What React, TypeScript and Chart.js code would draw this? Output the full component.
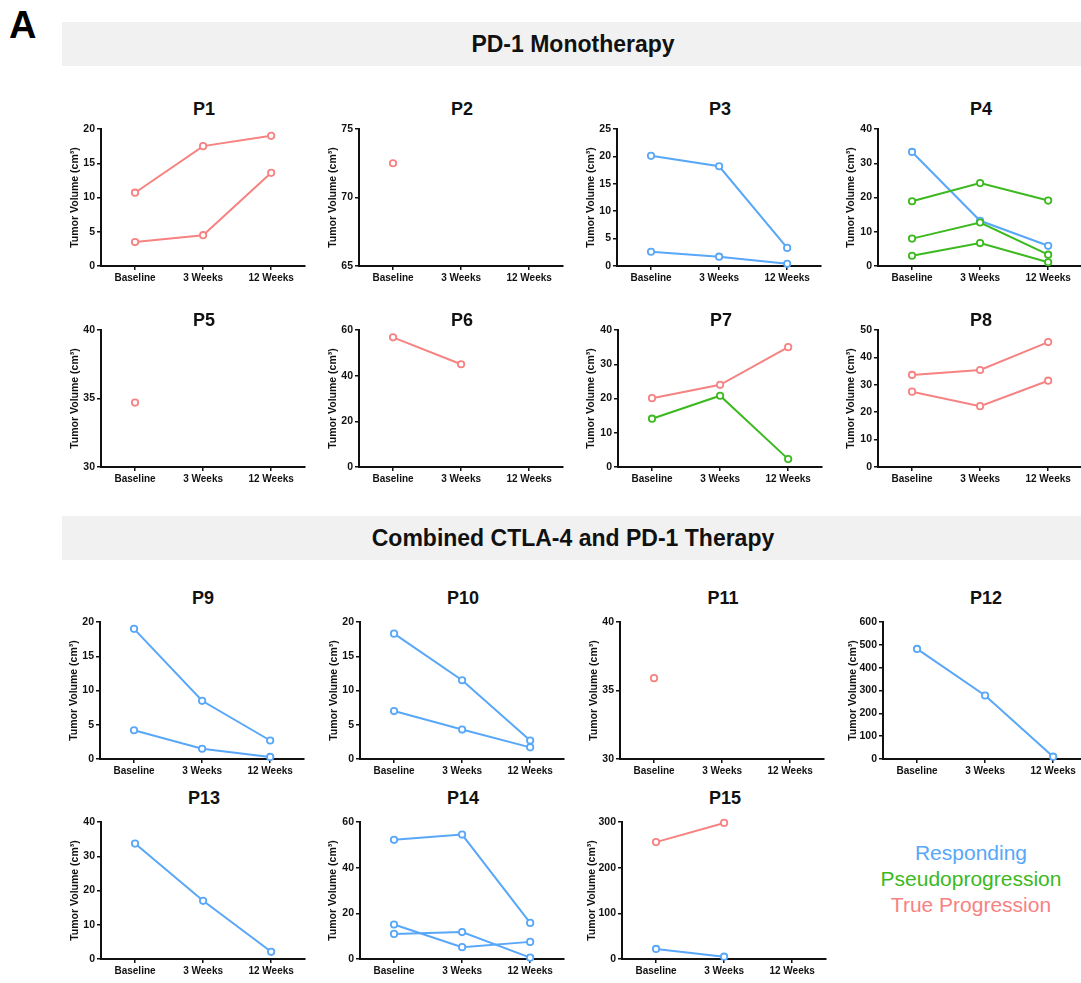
import React, { useEffect, useRef } from "react";
import { Chart, registerables } from "chart.js";
Chart.register(...registerables);

// ---------- DATA ----------
const categories = ["Baseline", "3 Weeks", "12 Weeks"];
const panelNames = ["P1", "P2", "P3", "P4", "P5", "P6", "P7", "P8", "P9", "P10", "P11", "P12", "P13", "P14", "P15"];

const p1a = [10.7, 17.5, 19.0];
const p1b = [3.5, 4.5, 13.6];
const p2a = [72.5, null, null];
const p3a = [20.1, 18.2, 3.3];
const p3b = [2.6, 1.7, 0.4];
const p4blue = [33.3, 13.2, 5.9];
const p4g1 = [18.9, 24.2, 19.1];
const p4g2 = [8.0, 12.7, 3.3];
const p4g3 = [3.0, 6.7, 1.1];
const p5a = [34.7, null, null];
const p6a = [56.8, 45.0, null];
const p7red = [20.1, 24.0, 35.0];
const p7green = [14.1, 20.8, 2.3];
const p8a = [33.6, 35.4, 45.6];
const p8b = [27.5, 22.2, 31.5];
const p9a = [19.0, 8.5, 2.7];
const p9b = [4.2, 1.5, 0.3];
const p10a = [18.3, 11.5, 2.7];
const p10b = [7.0, 4.3, 1.7];
const p11a = [35.9, null, null];
const p12a = [482, 278, 10];
const p13a = [33.7, 17.0, 2.1];
const p14a = [52.2, 54.5, 15.8];
const p14b = [15.1, 5.2, 7.5];
const p14c = [11.0, 11.8, 0.6];
const p15red = [256, 298, null];
const p15blue = [22, 5, null];

// y-axis ranges [min, max, step]
const yRanges: number[][] = [
  [0, 20, 5], [65, 75, 5], [0, 25, 5], [0, 40, 10],
  [30, 40, 5], [0, 60, 20], [0, 40, 10], [0, 50, 10],
  [0, 20, 5], [0, 20, 5], [30, 40, 5], [0, 600, 100],
  [0, 40, 10], [0, 60, 20], [0, 300, 100],
];

const legendLabels = ["Responding", "Pseudoprogression", "True Progression"];
const headings = ["PD-1 Monotherapy", "Combined CTLA-4 and PD-1 Therapy"];
const yTitle = "Tumor Volume (cm³)";

// ---------- STYLE / LAYOUT ----------
const BLUE = "#58a7f8";
const GREEN = "#3cb91e";
const PINK = "#f78282";
const FONT = "'Liberation Sans', Arial, Helvetica, sans-serif";

type S = { values: (number | null)[]; color: string };
const panelSeries: S[][] = [
  [{ values: p1a, color: PINK }, { values: p1b, color: PINK }],
  [{ values: p2a, color: PINK }],
  [{ values: p3a, color: BLUE }, { values: p3b, color: BLUE }],
  [{ values: p4g1, color: GREEN }, { values: p4g2, color: GREEN }, { values: p4g3, color: GREEN }, { values: p4blue, color: BLUE }],
  [{ values: p5a, color: PINK }],
  [{ values: p6a, color: PINK }],
  [{ values: p7red, color: PINK }, { values: p7green, color: GREEN }],
  [{ values: p8a, color: PINK }, { values: p8b, color: PINK }],
  [{ values: p9a, color: BLUE }, { values: p9b, color: BLUE }],
  [{ values: p10a, color: BLUE }, { values: p10b, color: BLUE }],
  [{ values: p11a, color: PINK }],
  [{ values: p12a, color: BLUE }],
  [{ values: p13a, color: BLUE }],
  [{ values: p14a, color: BLUE }, { values: p14b, color: BLUE }, { values: p14c, color: BLUE }],
  [{ values: p15red, color: PINK }, { values: p15blue, color: BLUE }],
];

const axisXs = [101, 359, 617, 878, 101, 359, 618, 878, 100, 360, 620, 883, 101, 360, 622];
const yTitleOffsets = [26, 26, 26, 27, 26, 26, 27, 27, 26, 26, 26, 30, 26, 27, 30];
const panelRow = [0, 0, 0, 0, 1, 1, 1, 1, 2, 2, 2, 2, 3, 3, 3];
const rowTop = [129, 330, 622, 822];
const rowBottom = [266, 467, 759, 959];
const rowTitleY = [108.5, 320, 598, 798];
const PLOT_W = 206;
const YW = 40;
const TOPPAD = 10;
const XH = 25;
const YTITLE_SIZE = 10.5;

function Panel({ idx }: { idx: number }) {
  const ref = useRef<HTMLCanvasElement | null>(null);
  const axisX = axisXs[idx];
  const row = panelRow[idx];
  const top = rowTop[row];
  const bottom = rowBottom[row];
  const cw = YW + PLOT_W + 4;
  const ch = TOPPAD + (bottom - top) + XH;

  useEffect(() => {
    if (!ref.current) return;
    const [mn, mx, st] = yRanges[idx];
    const titlePad = YW - yTitleOffsets[idx] - (YTITLE_SIZE * 1.2) / 2;
    const chart = new Chart(ref.current, {
      type: "line",
      data: {
        labels: categories,
        datasets: panelSeries[idx].map((s) => ({
          data: s.values,
          borderColor: s.color,
          backgroundColor: "#ffffff",
          pointBackgroundColor: "#ffffff",
          pointBorderColor: s.color,
          pointRadius: 3.2,
          pointBorderWidth: 1.8,
          borderWidth: 2,
          fill: false,
          tension: 0,
          clip: false,
          spanGaps: false,
        })),
      },
      options: {
        animation: false,
        responsive: false,
        maintainAspectRatio: false,
        layout: { padding: { top: TOPPAD, right: 4, left: 0, bottom: 0 } },
        plugins: { legend: { display: false }, tooltip: { enabled: false }, title: { display: false } },
        scales: {
          x: {
            type: "category",
            offset: true,
            afterFit: (s: any) => { s.height = XH; },
            border: { display: true, color: "#111", width: 2 },
            grid: { display: true, offset: false, drawOnChartArea: false, drawTicks: true, tickLength: 4, color: "#111", lineWidth: 1.5 },
            ticks: { color: "#111", padding: 2, maxRotation: 0, autoSkip: false, font: { family: FONT, size: 10, weight: "bold" } },
          },
          y: {
            type: "linear",
            min: mn,
            max: mx,
            afterFit: (s: any) => { s.width = YW; },
            border: { display: true, color: "#111", width: 2 },
            grid: { display: true, drawOnChartArea: false, drawTicks: true, tickLength: 4, color: "#111", lineWidth: 1.5 },
            ticks: { stepSize: st, color: "#111", padding: 2, font: { family: FONT, size: 10.5, weight: "bold" } },
            title: { display: true, text: yTitle, color: "#111", padding: { top: titlePad, bottom: 0 }, font: { family: FONT, size: YTITLE_SIZE, weight: "bold" } },
          },
        },
      } as any,
    });
    return () => chart.destroy();
  }, [idx]);

  return (
    <>
      <canvas
        ref={ref}
        width={cw}
        height={ch}
        style={{ position: "absolute", left: axisX - YW, top: top - TOPPAD, width: cw, height: ch }}
      />
      <div
        style={{
          position: "absolute",
          left: axisX + PLOT_W / 2 - 50,
          width: 100,
          top: rowTitleY[row] - 10,
          height: 20,
          lineHeight: "20px",
          textAlign: "center",
          fontFamily: FONT,
          fontWeight: "bold",
          fontSize: 18,
          color: "#111",
        }}
      >
        {panelNames[idx]}
      </div>
    </>
  );
}

export default function App() {
  useEffect(() => {
    document.body.style.margin = "0";
  }, []);
  const legendColors = [BLUE, GREEN, PINK];
  const legendY = [853, 879, 905];
  const bandTops = [22, 516];
  return (
    <div style={{ position: "absolute", left: 0, top: 0, width: 1081, height: 983, background: "#fff", overflow: "hidden", fontFamily: FONT }}>
      <div style={{ position: "absolute", left: 9, top: 4, fontSize: 38, fontWeight: "bold", lineHeight: "42px", color: "#000" }}>A</div>
      {headings.map((h, i) => (
        <div
          key={h}
          style={{
            position: "absolute",
            left: 62,
            width: 1019,
            top: bandTops[i],
            height: 44,
            background: "#f1f1f1",
          }}
        >
          <div
            style={{
              position: "absolute",
              left: 0,
              width: 1022,
              top: 0,
              height: 44,
              lineHeight: "44px",
              textAlign: "center",
              fontSize: 23,
              fontWeight: "bold",
              color: "#111",
            }}
          >
            {h}
          </div>
        </div>
      ))}
      {panelNames.map((_, i) => (
        <Panel key={i} idx={i} />
      ))}
      {legendLabels.map((l, i) => (
        <div
          key={l}
          style={{
            position: "absolute",
            left: 871,
            width: 200,
            top: legendY[i] - 13,
            height: 26,
            lineHeight: "26px",
            textAlign: "center",
            fontSize: 21,
            color: legendColors[i],
          }}
        >
          {l}
        </div>
      ))}
    </div>
  );
}
